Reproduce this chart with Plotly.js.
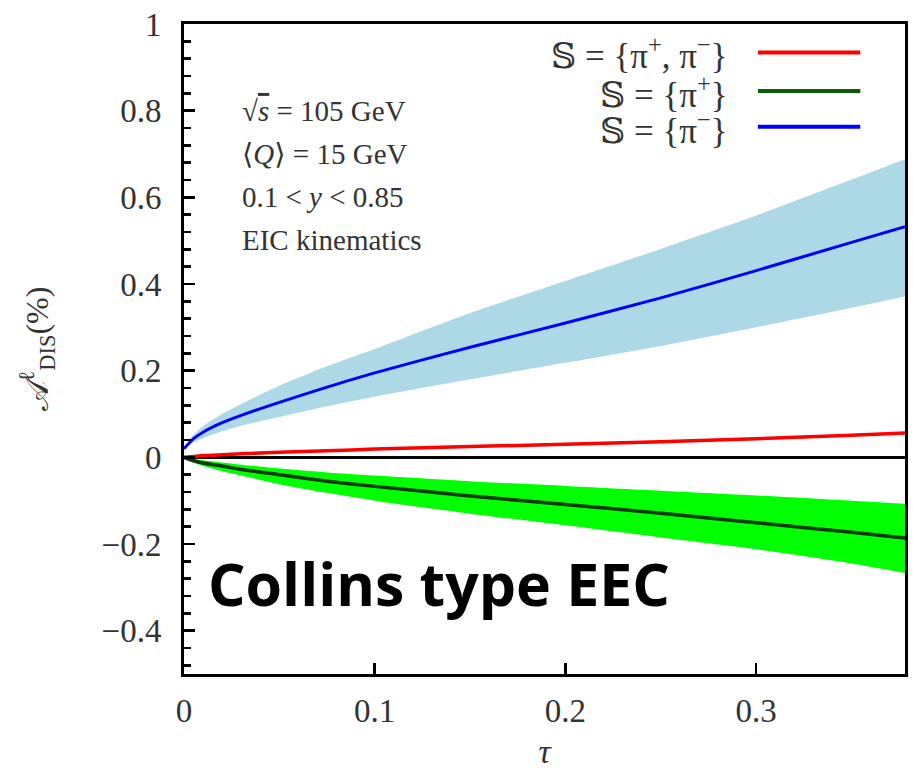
<!DOCTYPE html>
<html>
<head>
<meta charset="utf-8">
<script src="https://cdn.plot.ly/plotly-3.0.1.min.js"></script>
<style>html,body{margin:0;padding:0;background:#fff;}#chart{width:913px;height:771px;}</style>
</head>
<body>
<div id="chart"></div>
<script>
// tau values
const tau = [0, 0.005, 0.01, 0.02, 0.03, 0.05, 0.075, 0.1, 0.15, 0.2, 0.25, 0.3, 0.35, 0.378];

// S = {pi-} (blue)
const blueMid   = [0.02, 0.043, 0.058, 0.08, 0.097, 0.127, 0.162, 0.195, 0.254, 0.31, 0.368, 0.431, 0.496, 0.532];
const blueUpper = [0.02, 0.052, 0.072, 0.1, 0.123, 0.165, 0.21, 0.25, 0.333, 0.407, 0.481, 0.558, 0.641, 0.688];
const blueLower = [0.02, 0.034, 0.044, 0.06, 0.073, 0.093, 0.118, 0.14, 0.18, 0.218, 0.257, 0.3, 0.345, 0.371];

// S = {pi+, pi-} (red)
const redMid = [0, 0.002, 0.004, 0.006, 0.008, 0.012, 0.015, 0.019, 0.025, 0.03, 0.036, 0.043, 0.051, 0.056];

// S = {pi+} (green)
const greenMid   = [0, -0.008, -0.013, -0.02, -0.028, -0.04, -0.055, -0.067, -0.089, -0.109, -0.129, -0.151, -0.173, -0.186];
const greenUpper = [0, -0.004, -0.007, -0.012, -0.017, -0.026, -0.035, -0.042, -0.055, -0.066, -0.077, -0.088, -0.1, -0.107];
const greenLower = [0, -0.012, -0.02, -0.032, -0.042, -0.062, -0.082, -0.1, -0.13, -0.157, -0.185, -0.212, -0.245, -0.267];

const legendLabels = ['𝕊 = {π<sup>+</sup>, π<sup>−</sup>}', '𝕊 = {π<sup>+</sup>}', '𝕊 = {π<sup>−</sup>}'];
const legendColors = ['#ff0000', '#0a5c0a', '#0000ff'];
const infoLines = ['√<span style="text-decoration:overline"><i>s</i></span> = 105 GeV', '⟨<i>Q</i>⟩ = 15 GeV', '0.1 &lt; <i>y</i> &lt; 0.85', 'EIC kinematics'];

const serif = 'Liberation Serif, DejaVu Serif, serif';

const traces = [
  {x: tau, y: blueLower, mode: 'lines', line: {width: 0, shape: 'spline', smoothing: 0.6}, hoverinfo: 'skip', showlegend: false},
  {x: tau, y: blueUpper, mode: 'lines', line: {width: 0, shape: 'spline', smoothing: 0.6}, fill: 'tonexty', fillcolor: '#add8e6', showlegend: false},
  {x: tau, y: greenLower, mode: 'lines', line: {width: 0, shape: 'spline', smoothing: 0.6}, showlegend: false},
  {x: tau, y: greenUpper, mode: 'lines', line: {width: 0, shape: 'spline', smoothing: 0.6}, fill: 'tonexty', fillcolor: '#00ff00', showlegend: false},
  {x: tau, y: blueMid, mode: 'lines', line: {color: '#0000ff', width: 3, shape: 'spline', smoothing: 0.6}, showlegend: false},
  {x: tau, y: redMid, mode: 'lines', line: {color: '#ff0000', width: 3.5, shape: 'spline', smoothing: 0.6}, showlegend: false},
  {x: tau, y: greenMid, mode: 'lines', line: {color: '#063806', width: 3.5, shape: 'spline', smoothing: 0.6}, showlegend: false}
];

const legY = [0.954, 0.895, 0.840];
const annotations = [];
const shapes = [];
legendLabels.forEach((t, i) => {
  annotations.push({xref: 'paper', yref: 'paper', x: 0.757, y: legY[i], xanchor: 'right', yanchor: 'middle',
    text: t, showarrow: false, font: {family: serif, size: 35, color: '#333'}});
  shapes.push({type: 'line', xref: 'paper', yref: 'paper', x0: 0.796, x1: 0.938, y0: legY[i] + 0.002, y1: legY[i] + 0.002,
    line: {color: legendColors[i], width: 4}});
});
const infoY = [0.866, 0.800, 0.734, 0.668];
infoLines.forEach((t, i) => {
  annotations.push({xref: 'paper', yref: 'paper', x: 0.078, y: infoY[i], xanchor: 'left', yanchor: 'middle',
    text: t, showarrow: false, font: {family: serif, size: 29, color: '#333'}});
});
annotations.push({xref: 'paper', yref: 'paper', x: 0.030, y: 0.14, xanchor: 'left', yanchor: 'middle',
  text: 'Collins type EEC', showarrow: false, font: {family: 'Open Sans, sans-serif', size: 59, color: '#000', weight: 'bold'}});

const layout = {
  width: 913, height: 771,
  margin: {l: 184, r: 8, t: 24, b: 97},
  paper_bgcolor: '#fff', plot_bgcolor: '#fff',
  showlegend: false,
  xaxis: {
    range: [0, 0.378], tick0: 0, dtick: 0.1, ticks: 'inside', ticklen: 11, tickwidth: 2.5, tickcolor: '#000',
    showline: true, linecolor: '#000', linewidth: 3, mirror: true, showgrid: false, zeroline: false,
    tickfont: {family: serif, size: 33, color: '#333'}, ticklabelstandoff: 5,
    title: {text: '<i>τ</i>', font: {family: serif, size: 34, color: '#333'}, standoff: 12}
  },
  yaxis: {
    range: [-0.5, 1], tick0: 0, dtick: 0.2, ticks: 'inside', ticklen: 11, tickwidth: 2.5, tickcolor: '#000',
    minor: {dtick: 0.04, tick0: 0, ticks: 'inside', ticklen: 7, tickwidth: 2.5, tickcolor: '#000', showgrid: false},
    showline: true, linecolor: '#000', linewidth: 3, mirror: true, showgrid: false,
    zeroline: true, zerolinecolor: '#000', zerolinewidth: 2.5,
    tickfont: {family: serif, size: 33, color: '#333'}, ticklabelstandoff: 13,
    title: {text: '𝒜<sup>ℓ</sup><sub>DIS</sub>(%)', font: {family: serif, size: 32, color: '#333'}, standoff: 44}
  },
  annotations: annotations,
  shapes: shapes
};

Plotly.newPlot('chart', traces, layout, {staticPlot: true, displayModeBar: false});
</script>
</body>
</html>
